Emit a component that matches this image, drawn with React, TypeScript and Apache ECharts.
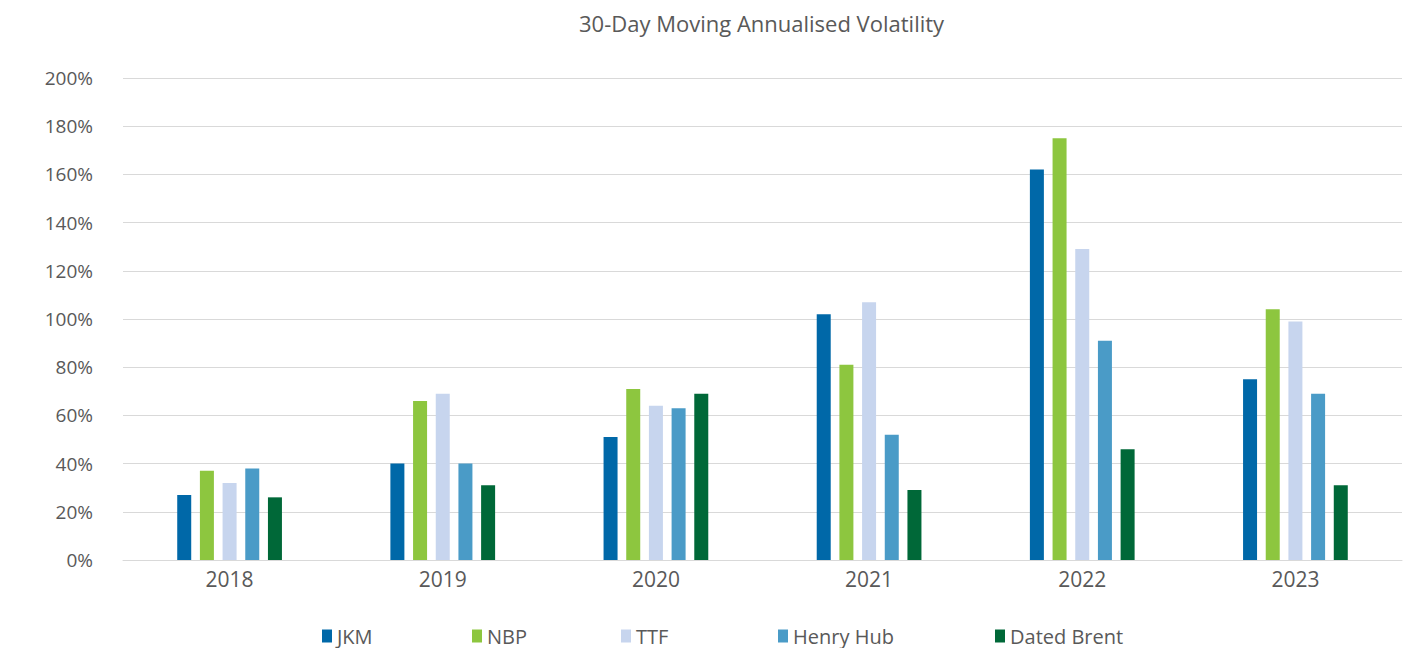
import React, { useEffect, useRef } from "react";
import * as echarts from "echarts";

const categories = ["2018", "2019", "2020", "2021", "2022", "2023"];
const jkm = [27, 40, 51, 102, 162, 75];
const nbp = [37, 66, 71, 81, 175, 104];
const ttf = [32, 69, 64, 107, 129, 99];
const henryHub = [38, 40, 63, 52, 91, 69];
const datedBrent = [26, 31, 69, 29, 46, 31];
const seriesNames = ["JKM", "NBP", "TTF", "Henry Hub", "Dated Brent"];
const colors = ["#0068A8", "#8DC63F", "#C7D5EE", "#4A9BC7", "#006838"];
const legendLeft = [317, 467, 616, 773, 990];

export default function App() {
  const ref = useRef<HTMLDivElement>(null);
  useEffect(() => {
    document.body.style.margin = "0";
    const chart = echarts.init(ref.current!, null, { renderer: "svg" });
    const font = "'Open Sans', sans-serif";
    const values = [jkm, nbp, ttf, henryHub, datedBrent];
    chart.setOption({
      animation: false,
      textStyle: { fontFamily: font },
      title: {
        text: "30-Day Moving Annualised Volatility",
        left: 574,
        top: 7,
        textStyle: { fontFamily: font, fontSize: 22, fontWeight: "normal", color: "#595959" },
      },
      legend: seriesNames.map((n, i) => ({
        data: [n],
        left: legendLeft[i],
        top: 621,
        itemWidth: 10,
        itemHeight: 13,
        itemGap: 0,
        icon: "rect",
        textStyle: { fontFamily: font, fontSize: 20, color: "#595959", padding: [0, 0, 0, 0] },
      })),
      grid: { left: 123, right: 21, top: 78, bottom: 88 },
      xAxis: {
        type: "category",
        data: categories,
        axisLine: { lineStyle: { color: "#d9d9d9", width: 1 } },
        axisTick: { show: false },
        axisLabel: { color: "#595959", fontSize: 21, fontFamily: font, margin: 8 },
      },
      yAxis: {
        type: "value",
        min: 0,
        max: 200,
        interval: 20,
        axisLine: { show: false },
        axisTick: { show: false },
        splitLine: { lineStyle: { color: "#d9d9d9", width: 1 } },
        axisLabel: { color: "#595959", fontSize: 19, fontFamily: font, margin: 30, formatter: "{value}%" },
      },
      series: seriesNames.map((n, i) => ({
        name: n,
        type: "bar",
        data: values[i],
        barWidth: 14,
        barGap: "62%",
        itemStyle: { color: colors[i] },
      })),
    });
    return () => chart.dispose();
  }, []);
  return <div ref={ref} style={{ width: 1423, height: 648 }} />;
}
